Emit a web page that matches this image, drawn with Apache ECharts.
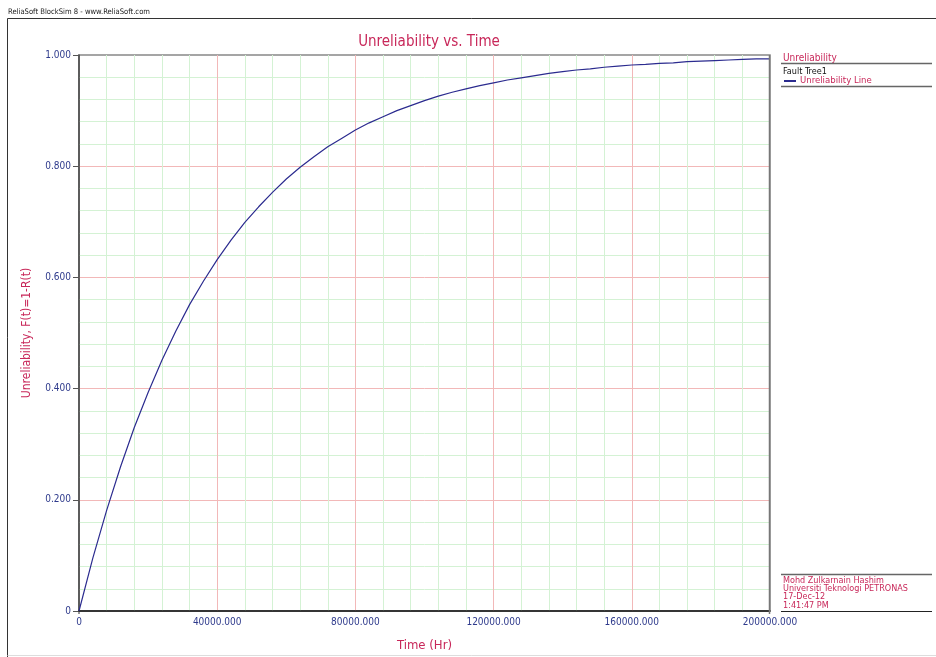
<!DOCTYPE html>
<html>
<head>
<meta charset="utf-8">
<script src="https://cdn.jsdelivr.net/npm/echarts@6/dist/echarts.min.js"></script>
<style>
html,body{margin:0;padding:0;background:#fff;}
#chart{width:936px;height:657px;}
</style>
</head>
<body>
<div id="chart"></div>
<script>
// Data
var timeHr = [0,4000,8000,12000,16000,20000,24000,28000,32000,36000,40000,44000,48000,52000,56000,60000,64000,68000,72000,76000,80000,84000,88000,92000,96000,100000,104000,108000,112000,116000,120000,124000,128000,132000,136000,140000,144000,148000,152000,156000,160000,164000,168000,172000,176000,180000,184000,188000,192000,196000,200000];
var unreliability = [0,0.095,0.181,0.259,0.330,0.393,0.451,0.503,0.551,0.593,0.632,0.667,0.699,0.727,0.753,0.777,0.798,0.817,0.835,0.850,0.865,0.878,0.889,0.900,0.909,0.918,0.926,0.933,0.939,0.945,0.950,0.955,0.959,0.963,0.967,0.970,0.973,0.975,0.978,0.980,0.982,0.983,0.985,0.986,0.988,0.989,0.990,0.991,0.992,0.993,0.993];
var titleText = 'Unreliability vs. Time';
var xAxisName = 'Time (Hr)';
var yAxisName = 'Unreliability, F(t)=1-R(t)';
var seriesName = 'Unreliability Line';
var headerText = 'ReliaSoft BlockSim 8 - www.ReliaSoft.com';
var panelTitle = 'Unreliability';
var panelSub = 'Fault Tree1';
var footerLines = ['Mohd Zulkarnain Hashim','Universiti Teknologi PETRONAS','17-Dec-12','1:41:47 PM'];

var FONT = '"DejaVu Sans Condensed","DejaVu Sans",sans-serif';
var RED = '#c8285a';
var NAVY = '#2e3a8c';

var data = timeHr.map(function(t,i){return [t, unreliability[i]];});

var chart = echarts.init(document.getElementById('chart'));

var graphics = [
  {type:'line', shape:{x1:7.5,y1:18.5,x2:936,y2:18.5}, style:{stroke:'#333',lineWidth:1}},
  {type:'line', shape:{x1:7.5,y1:18.5,x2:7.5,y2:657}, style:{stroke:'#333',lineWidth:1}},
  {type:'line', shape:{x1:7.5,y1:655.5,x2:936,y2:655.5}, style:{stroke:'#ddd',lineWidth:1}},
  {type:'text', left:8, top:8, style:{text:headerText, font:'7.6px '+FONT, fill:'#222'}},
  {type:'text', left:783, top:53, style:{text:panelTitle, font:'10px '+FONT, fill:RED}},
  {type:'line', shape:{x1:781,y1:63.5,x2:932,y2:63.5}, style:{stroke:'#666',lineWidth:1.5}},
  {type:'text', left:783, top:67, style:{text:panelSub, font:'9px '+FONT, fill:'#111'}},
  {type:'line', shape:{x1:781,y1:86.5,x2:932,y2:86.5}, style:{stroke:'#666',lineWidth:1.5}},
  {type:'line', shape:{x1:781,y1:574.5,x2:932,y2:574.5}, style:{stroke:'#666',lineWidth:1.5}},
  {type:'line', shape:{x1:781,y1:611.5,x2:932,y2:611.5}, style:{stroke:'#222',lineWidth:1.2}},
  {type:'line', z:100, shape:{x1:769.5,y1:55,x2:769.5,y2:614}, style:{stroke:'#777',lineWidth:1.5}},
  {type:'line', z:100, shape:{x1:79,y1:611,x2:79,y2:614}, style:{stroke:'#333',lineWidth:1}}
];
footerLines.forEach(function(s,i){
  graphics.push({type:'text', left:783, top:576+i*8.3, style:{text:s, font:'9px '+FONT, fill:RED}});
});

chart.setOption({
  animation:false,
  backgroundColor:'#fff',
  title:{text:titleText, left:424, top:30, textAlign:'center',
    textStyle:{color:RED, fontFamily:FONT, fontSize:15, fontWeight:'normal'}},
  legend:{data:[seriesName], left:779, top:71, itemWidth:12, itemHeight:2, itemGap:4,
    icon:'rect',
    textStyle:{color:RED, fontFamily:FONT, fontSize:9.5, padding:[0,0,0,-1]}},
  grid:{left:79, top:55, right:166, bottom:46, show:true, borderColor:'#888', borderWidth:1.5},
  xAxis:{type:'value', min:0, max:200000, interval:40000,
    name:xAxisName, nameLocation:'middle', nameGap:28,
    nameTextStyle:{color:RED, fontFamily:FONT, fontSize:13},
    axisLine:{show:true, onZero:false, lineStyle:{color:'#111', width:1.5}},
    axisTick:{show:false},
    axisLabel:{color:NAVY, fontFamily:FONT, fontSize:10, margin:6,
      formatter:function(v){return v===0?'0':v.toFixed(3);}},
    splitLine:{show:true, showMinLine:false, showMaxLine:false, lineStyle:{color:'#f2b8b8', width:1}},
    minorTick:{show:false, splitNumber:5},
    minorSplitLine:{show:true, lineStyle:{color:'#d4f2d4', width:1}}
  },
  yAxis:{type:'value', min:0, max:1, interval:0.2,
    name:yAxisName, nameLocation:'middle', nameGap:46, nameRotate:90,
    nameTextStyle:{color:RED, fontFamily:FONT, fontSize:12},
    axisLine:{show:true, onZero:false, lineStyle:{color:'#444', width:1.5}},
    axisTick:{show:true, length:6, lineStyle:{color:'#555'}},
    axisLabel:{color:NAVY, fontFamily:FONT, fontSize:10, margin:8,
      formatter:function(v){return v===0?'0':v.toFixed(3);}},
    splitLine:{show:true, showMinLine:false, showMaxLine:false, lineStyle:{color:'#f2b8b8', width:1}},
    minorTick:{show:false, splitNumber:5},
    minorSplitLine:{show:true, lineStyle:{color:'#d4f2d4', width:1}}
  },
  series:[{name:seriesName, type:'line', data:data, showSymbol:false, symbol:'none',
    lineStyle:{color:'#2b2b8f', width:1.2}, itemStyle:{color:'#2b2b8f'}}],
  graphic:graphics
});
</script>
</body>
</html>
